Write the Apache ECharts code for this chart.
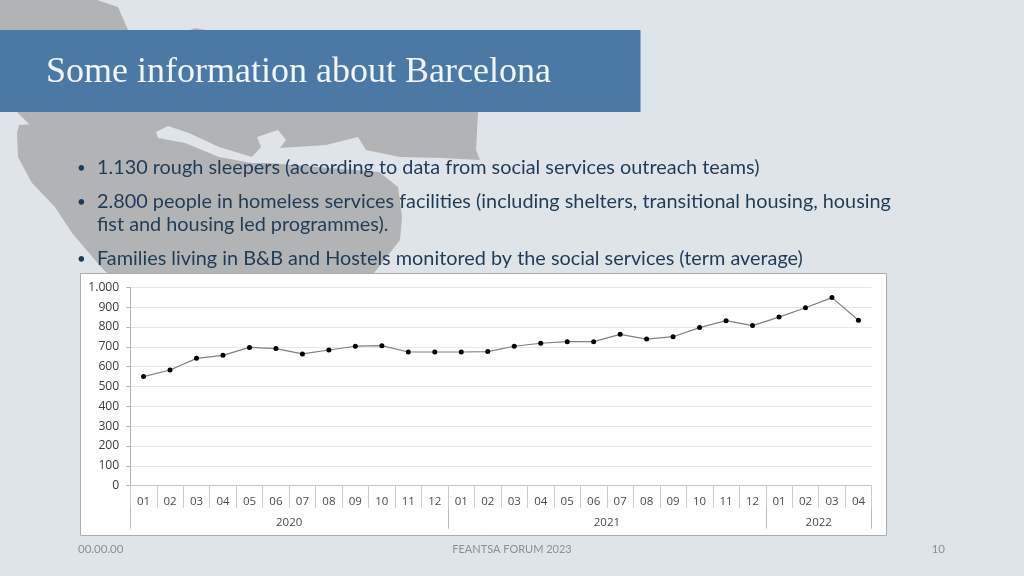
<!DOCTYPE html>
<html><head><meta charset="utf-8">
<style>html,body{margin:0;padding:0;background:#dfe4e8}#c{width:1024px;height:576px}</style>
<script src="https://cdn.jsdelivr.net/npm/echarts@6/dist/echarts.min.js"></script>
</head><body><div id="c"></div>
<script>
const months=['01','02','03','04','05','06','07','08','09','10','11','12','01','02','03','04','05','06','07','08','09','10','11','12','01','02','03','04'];
const homelessFamilies=[550,583,642,657,697,691,664,684,703,706,674,674,674,676,703,718,726,726,763,739,751,797,832,807,850,897,948,834];
const yearLabels=['2020','2021','2022'];
const yearCentres=[6,18,26];
const yearEdges=[0,12,24,28];
const bullets=['1.130 rough sleepers (according to data from social services outreach teams)',
 '2.800 people in homeless services facilities (including shelters, transitional housing, housing',
 'fist and housing led programmes).',
 'Families living in B&B and Hostels monitored by the social services (term average)'];
const land=[[0,0],[97,0],[118,7],[128,30],[190,30],[195,28],[206,30],[478,30],[478,113],[476,150],[480,160],[442,158],[400,157],[366,150],[358,137],[326,145],[280,148],[286,140],[278,130],[257,137],[261,147],[252,157],[219,147],[189,133],[168,126],[156,132],[158,138],[185,143],[219,157],[252,163],[269,163],[379,172],[398,187],[402,217],[400,240],[374,273],[107,273],[101,267],[72,233],[55,207],[32,183],[18,157],[17,133],[19,125],[36,124],[30,125],[17,112],[0,112]];
const body='Lato',ink='#1f3b55',foot='#87919b',bodyFont='19.85px '+body;
const T=(x,y,text,font,fill,align)=>({type:'text',x,y,z:5,style:{text,font,fill,align:align||'left',verticalAlign:'middle'}});
const chart=echarts.init(document.getElementById('c'));
chart.setOption({
 animation:false,
 backgroundColor:'#dfe4e8',
 graphic:[
  {type:'polygon',z:1,shape:{points:land},style:{fill:'#b2b3b4'}},
  {type:'rect',z:2,shape:{x:0,y:30,width:640.5,height:82},style:{fill:'#4a79a6'}},
  T(46,73,'Some information about Barcelona','36px "Liberation Serif"','#f3f6f9'),
  T(77,168,'•','15px '+body,ink),
  T(97,168,bullets[0],bodyFont,ink),
  T(77,202,'•','15px '+body,ink),
  T(97,202,bullets[1],bodyFont,ink),
  T(97,225,bullets[2],bodyFont,ink),
  T(77,259,'•','15px '+body,ink),
  T(97,259,bullets[3],bodyFont,ink),
  {type:'rect',z:3,shape:{x:80.5,y:273.5,width:806,height:262},style:{fill:'#ffffff',stroke:'#a9adb0',lineWidth:1}},
  T(78,549,'00.00.00','11.5px '+body,foot),
  T(512,549,'FEANTSA FORUM 2023','11px '+body,foot,'center'),
  T(945,549,'10','11.5px '+body,foot,'right')
 ],
 grid:{left:130.3,right:152.3,top:287.3,bottom:90.3,containLabel:false,z:4},
 xAxis:[
  {type:'category',data:months,boundaryGap:true,z:4,
   axisLine:{show:true,lineStyle:{color:'#c4c4c4'}},
   axisTick:{show:true,alignWithLabel:false,interval:0,length:22,lineStyle:{color:'#cccccc'}},
   axisLabel:{interval:0,margin:10,fontFamily:'Open Sans',fontSize:11.5,color:'#4a4a4a'}},
  {type:'value',min:0,max:28,position:'bottom',offset:22,z:4,
   axisLine:{show:false},splitLine:{show:false},
   axisTick:{show:true,customValues:yearEdges,length:21,lineStyle:{color:'#b9b9b9'}},
   axisLabel:{customValues:yearCentres,margin:9,fontFamily:'Open Sans',fontSize:11.5,color:'#4a4a4a',
     formatter:v=>yearLabels[yearCentres.indexOf(v)]}}
 ],
 yAxis:{type:'value',min:0,max:1000,interval:100,z:4,
  axisLine:{show:true,lineStyle:{color:'#b5b5b5'}},
  axisTick:{show:true,length:4,lineStyle:{color:'#b5b5b5'}},
  splitLine:{show:true,lineStyle:{color:'#e8e8e8'}},
  axisLabel:{margin:11,fontFamily:'Open Sans',fontSize:12.2,color:'#3c3c3c',
    formatter:v=>v>=1000?'1.000':String(v)}},
 series:[{type:'line',data:homelessFamilies,z:6,xAxisIndex:0,
  symbol:'circle',symbolSize:5,
  lineStyle:{color:'#808080',width:1.2},itemStyle:{color:'#000000'}}]
});
</script></body></html>
